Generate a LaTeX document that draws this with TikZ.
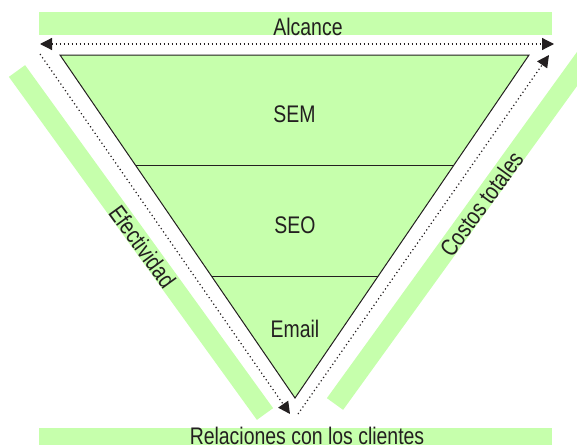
\documentclass[tikz,border=0pt]{standalone}
\usepackage{fontspec}
\setmainfont{Liberation Sans}[FakeStretch=0.81]
\usetikzlibrary{arrows.meta,calc}
\definecolor{funnel}{RGB}{198,255,172}
\definecolor{ink}{RGB}{35,31,32}

\begin{document}
\begin{tikzpicture}[x=1pt,y=-1pt,
    >={Triangle[length=12pt,width=12pt]},
    label/.style={inner sep=0pt, text=ink, font=\fontsize{24}{28}\selectfont},
    band/.style={line width=20pt, draw=funnel},
    measure/.style={ink, line width=1.2pt, dash pattern=on 1.2pt off 2.8pt}]
    \useasboundingbox (0,0) rectangle (577,444);
    \clip (0,0) rectangle (577,444);

    \coordinate (L) at (60,55);
    \coordinate (R) at (529,55);
    \coordinate (V) at (295,398);

    \coordinate (L1) at ($(L)!0.3236!(V)$);
    \coordinate (R1) at ($(R)!0.3236!(V)$);
    \coordinate (L2) at ($(L)!0.6472!(V)$);
    \coordinate (R2) at ($(R)!0.6472!(V)$);

    \coordinate (AL) at (40,44);
    \coordinate (AR) at (554,44);
    \coordinate (EA) at (40,54);
    \coordinate (EB) at (290,414);
    \coordinate (CA) at (298,414);
    \coordinate (CB) at (549,55);

    \fill[funnel] (39,12) rectangle (552,35);
    \fill[funnel] (39,428) rectangle (552,450);
    \draw[band] (17,71) -- (265,414);
    \draw[band] (335,404) -- (590,51);

    \draw[ink, line width=1pt, fill=funnel] (L) -- (R) -- (V) -- cycle;
    \draw[ink, line width=1pt] (L1) -- (R1);
    \draw[ink, line width=1pt] (L2) -- (R2);

    \draw[measure, <->] (AL) -- (AR);
    \draw[measure, ->] (EA) -- (EB);
    \draw[measure, ->] (CA) -- (CB);

    \node[label, anchor=base] (alcance) at (308,35) {Alcance};
    \node[label, anchor=base] (sem) at (294.5,122) {SEM};
    \node[label, anchor=base] (seo) at (295,233) {SEO};
    \node[label, anchor=base] (email) at (295,337) {Email};
    \node[label, anchor=base] (relaciones) at (307,444) {Relaciones con los clientes};
    \node[label, rotate=-54] (efectividad) at (142.5,246.5) {Efectividad};
    \node[label, rotate=54] (costos) at (481.5,204) {Costos totales};
\end{tikzpicture}
\end{document}
